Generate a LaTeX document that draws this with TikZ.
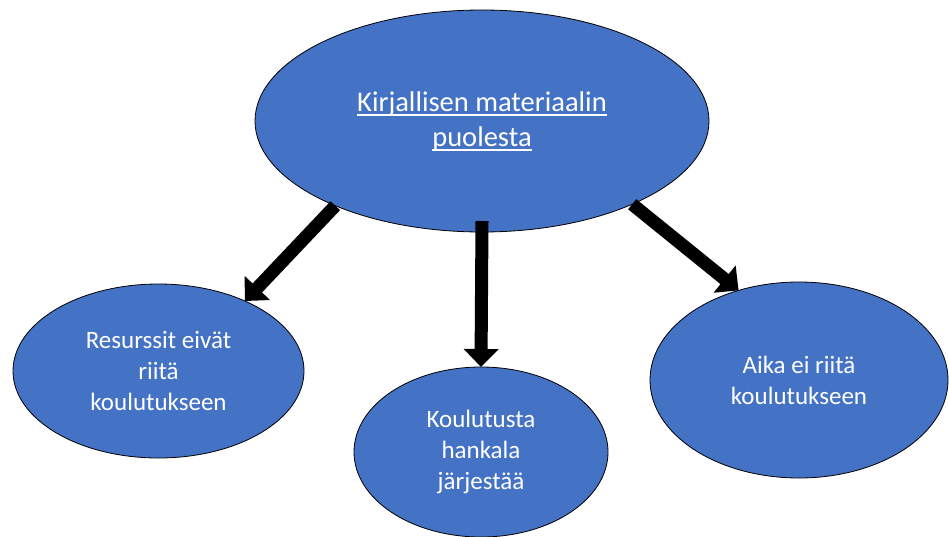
\documentclass[tikz,border=0pt]{standalone}
\usepackage{fontspec}
\setmainfont{Carlito}
\usetikzlibrary{arrows.meta,shapes.geometric}
\definecolor{obl}{HTML}{4472C4}
\newcommand\myul[1]{\setbox0\hbox{#1}\rlap{\rule[-4.5pt]{\wd0}{1.6pt}}\box0}
\begin{document}
\begin{tikzpicture}[x=1pt,y=-1pt,
  bub/.style={ellipse,draw=black,line width=0.8pt,fill=obl,text=white,inner sep=0pt,outer sep=0pt,align=center},
  bigtxt/.style={font=\fontsize{28.5}{35}\selectfont},
  smalltxt/.style={font=\fontsize{25}{31}\selectfont},
  arr/.style={line width=13pt,draw=black,-{Triangle[width=34pt,length=18pt]}}]
\useasboundingbox[fill=white] (0,0) rectangle (949,536);
\node[bub,bigtxt,minimum width=454pt,minimum height=222pt] (top) at (482,121)
  {\myul{Kirjallisen materiaalin}\\\myul{puolesta}};
\node[bub,smalltxt,minimum width=291pt,minimum height=174pt] (left) at (158.5,371)
  {Resurssit eivät\\riitä\\koulutukseen};
\node[bub,smalltxt,minimum width=254pt,minimum height=170pt] (mid) at (481,452)
  {Koulutusta\\hankala\\järjestää};
\node[bub,smalltxt,minimum width=298pt,minimum height=196pt] (right) at (799,380)
  {Aika ei riitä\\koulutukseen};
\draw[arr] (top.210) -- (left.39);
\draw[arr] ([yshift=11pt]top.south) -- (mid.north);
\draw[arr] (top.331) -- (right.124);
\end{tikzpicture}
\end{document}
